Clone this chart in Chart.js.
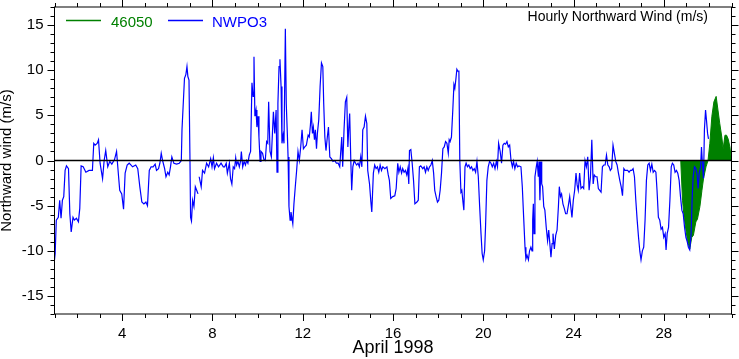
<!DOCTYPE html>
<html>
<head>
<meta charset="utf-8">
<script src="https://cdn.jsdelivr.net/npm/chart.js@4.4.1/dist/chart.umd.min.js"></script>
<style>
  html, body { margin: 0; padding: 0; background: #fff; }
  canvas { display: block; }
</style>
</head>
<body>
<canvas id="windChart" width="739" height="359"></canvas>
<script>
// NWPO3 hourly northward wind, x = day of April 1998 (1 = Apr 1 00:00)
var nwpoDays = [
  1.0, 1.03, 1.08, 1.17, 1.23, 1.29, 1.35, 1.41, 1.47, 1.53, 1.62, 1.68, 1.74, 1.82, 1.88, 1.97,
  2.06, 2.12, 2.18, 2.27, 2.39, 2.53, 2.68, 2.74, 2.80, 2.89, 2.95, 3.02, 3.13, 3.20, 3.27, 3.36,
  3.45, 3.54, 3.66, 3.75, 3.84, 3.89, 3.98, 4.06, 4.13, 4.22, 4.31, 4.46, 4.60, 4.69, 4.78, 4.87,
  4.96, 5.05, 5.12, 5.20, 5.28, 5.37, 5.46, 5.52, 5.61, 5.67, 5.73, 5.79, 5.88, 5.94, 6.02, 6.08,
  6.14, 6.20, 6.29, 6.41, 6.53, 6.62, 6.65, 6.70, 6.76, 6.82, 6.87, 6.91, 6.96, 7.00, 7.03, 7.07,
  7.12, 7.18, 7.24, 7.30, 7.36, 7.39, 7.41, 7.50, 7.56, 7.65, 7.74, 7.83, 7.92, 7.98, 8.04, 8.09,
  8.18, 8.27, 8.38, 8.48,
  8.54, 8.61, 8.66, 8.75, 8.80, 8.86, 8.92, 8.98, 9.03, 9.07, 9.13, 9.19, 9.25, 9.28, 9.34, 9.40,
  9.46, 9.51, 9.57, 9.63, 9.69, 9.75, 9.80, 9.84, 9.88, 9.93, 9.97, 10.02, 10.06, 10.11, 10.15, 10.22,
  10.28, 10.34, 10.40, 10.45, 10.49, 10.55, 10.61, 10.70, 10.76, 10.82, 10.86, 10.90, 10.95, 10.99, 11.04, 11.08,
  11.13, 11.17, 11.23, 11.27, 11.32, 11.35, 11.39, 11.44, 11.48, 11.56, 11.61, 11.67, 11.73, 11.79, 11.85, 11.91,
  11.97, 12.03, 12.09, 12.16, 12.24, 12.29, 12.34, 12.38, 12.43, 12.47, 12.52, 12.56, 12.61, 12.65, 12.71, 12.77,
  12.83, 12.89, 12.93, 12.98, 13.03, 13.09, 13.14, 13.20, 13.27, 13.34, 13.42, 13.49, 13.57, 13.64, 13.68, 13.73,
  13.77, 13.83, 13.89, 13.95, 14.00, 14.04, 14.08, 14.13, 14.17, 14.22, 14.28, 14.34, 14.39, 14.45, 14.51, 14.57,
  14.62, 14.66, 14.72, 14.78, 14.84, 14.88, 14.96, 15.02, 15.06, 15.13, 15.19, 15.25, 15.31, 15.37, 15.43, 15.49,
  15.55, 15.64, 15.73, 15.79, 15.84, 15.90, 15.99, 16.08, 16.14, 16.21, 16.26,
  16.32, 16.38, 16.43, 16.49, 16.55, 16.61, 16.66, 16.70, 16.73, 16.79, 16.85, 16.91, 16.97, 17.06, 17.12, 17.17,
  17.23, 17.32, 17.38, 17.44, 17.50, 17.56, 17.62, 17.68, 17.74, 17.80, 17.85, 17.91, 17.97, 18.03, 18.09, 18.15,
  18.21, 18.27, 18.33, 18.39, 18.45, 18.49, 18.53, 18.59, 18.65, 18.70, 18.74, 18.79, 18.83, 18.87, 18.92, 18.96,
  19.01, 19.05, 19.10, 19.14, 19.19, 19.24, 19.30, 19.36, 19.42, 19.48, 19.54, 19.60, 19.66, 19.72, 19.78, 19.84,
  19.90, 19.95, 20.00, 20.06, 20.10, 20.16, 20.22, 20.28, 20.34, 20.40, 20.46, 20.52, 20.58, 20.63, 20.68, 20.75,
  20.81, 20.87, 20.93, 20.99, 21.05, 21.11, 21.17, 21.23, 21.29, 21.34, 21.40, 21.46, 21.52, 21.58, 21.67, 21.73,
  21.79, 21.85, 21.89, 21.94, 22.00, 22.05, 22.11, 22.16, 22.19, 22.22, 22.25, 22.29, 22.35, 22.39, 22.44, 22.47,
  22.51, 22.56, 22.59, 22.63, 22.68, 22.73, 22.79, 22.85, 22.90, 22.94, 23.00, 23.05, 23.09, 23.15, 23.21, 23.27,
  23.33, 23.37, 23.42, 23.47, 23.53, 23.59, 23.65, 23.71, 23.77, 23.83,
  23.93, 23.99, 24.05, 24.11, 24.16, 24.21, 24.27, 24.33, 24.39, 24.45, 24.51, 24.57, 24.63, 24.69, 24.75, 24.81,
  24.87, 24.92, 24.98, 25.04, 25.10, 25.16, 25.22, 25.28, 25.34, 25.40, 25.46, 25.52, 25.58, 25.63, 25.69, 25.75,
  25.81, 25.87, 25.93, 25.99, 26.05, 26.11, 26.17, 26.23, 26.28, 26.34, 26.40, 26.46, 26.52, 26.58, 26.64, 26.70,
  26.76, 26.82, 26.88, 26.94, 26.99, 27.05, 27.11, 27.17, 27.23, 27.29, 27.35, 27.41, 27.47, 27.53, 27.59, 27.65,
  27.70, 27.76, 27.82, 27.88, 27.94, 28.00, 28.06, 28.10, 28.15, 28.21, 28.27, 28.33, 28.38, 28.44, 28.50, 28.56,
  28.62, 28.68, 28.74, 28.80, 28.86, 28.92, 28.98, 29.04, 29.09, 29.15, 29.21, 29.26, 29.30, 29.36, 29.42, 29.48,
  29.52, 29.57, 29.63, 29.67, 29.72, 29.76, 29.80, 29.85, 29.89, 29.94, 29.98
];
var nwpoWind = [
  -11.0, -10.3, -6.6, -6.3, -4.4, -6.4, -4.4, -4.0, -1.1, -0.6, -0.9, -5.9, -7.9, -6.3, -6.6, -6.4,
  -6.8, -5.3, -0.6, -0.7, -1.3, -1.1, -1.1, 1.9, 1.7, 1.9, 2.3, -0.3, -2.0, 0.0, 1.1, -0.7,
  -0.1, -0.4, 0.1, 1.0, -1.8, -3.3, -3.7, -5.4, -1.4, -0.5, -0.3, -0.7, -0.5, -0.9, -2.9, -4.6,
  -4.8, -4.6, -5.0, -1.1, -0.7, -0.7, -0.4, -1.1, -0.9, -0.3, 0.8, 0.0, -0.9, -1.8, -1.3, -1.6,
  -0.7, 0.4, -0.3, -0.4, -0.3, 0.0, 3.4, 6.0, 9.1, 9.5, 10.4, 9.3, 8.9, 0.8, -6.3, -6.7,
  -4.4, -5.1, -2.9, -3.3, -3.7, null, -1.8, -2.9, -1.1, -1.4, -0.3, -0.7, 0.2, -0.7, 0.3, -0.9,
  -0.3, -0.7, -0.3, -0.7,
  -0.7, -0.3, -1.4, -0.3, -2.0, -2.6, -0.7, -0.9, 0.3, -0.5, -0.1, -0.7, 0.0, 1.0, -0.7, -0.1,
  -0.5, 0.0, -0.3, 0.6, 1.0, 8.6, 7.1, 11.5, 4.9, 5.6, 3.7, 4.9, 2.6, -0.1, 1.0, 0.8,
  0.1, 0.0, 2.1, 1.9, 6.5, 1.0, 0.4, 5.4, 3.0, 5.6, -1.3, 6.3, 10.4, 11.2, 8.2, 1.9,
  2.8, 1.9, 14.6, 6.3, 2.8, 0.4, -5.1, -6.6, -5.7, -7.0, -4.8, -2.9, -1.1, 1.0, 0.0, 1.5,
  3.4, 1.3, 1.5, 1.7, 2.8, 2.6, 3.9, 5.4, 3.0, 3.7, 2.3, 3.4, 1.3, 3.0, 4.5, 8.2,
  10.8, 10.4, 6.3, 2.6, 1.1, 2.6, 3.7, 0.4, 0.2, -0.1, 0.0, -0.3, -0.3, -0.7, 0.8, 2.6,
  -0.7, 3.4, 6.5, 7.0, 1.5, 3.6, 5.2, 0.0, -3.3, -0.7, 0.0, -0.3, -0.5, -0.3, -0.7, 0.4,
  -0.7, 3.4, 3.7, 4.9, 4.1, -1.1, -2.6, -4.6, -5.7, -1.4, -0.5, -0.9, -0.7, -1.3, -0.5, -1.1,
  -0.7, -0.9, -0.7, -1.6, -2.2, -4.2, -4.0, -3.9, -3.1, -0.3, -1.3,
  -0.7, -1.4, -0.9, -1.3, -1.1, -1.6, -0.9, -2.6, 1.1, 1.2, -0.3, -2.2, -4.8, -4.6, -4.4, -0.7,
  -0.6, -0.9, -0.7, -1.3, -0.7, -1.1, -0.7, -0.5, 0.0, -1.4, -3.3, -4.0, -4.6, -4.4, -3.3, -1.4,
  1.3, 1.5, 2.1, 1.9, 0.8, 2.3, 2.1, 2.6, 5.6, 8.4, 8.0, 9.1, 10.1, 9.9, 9.9, 0.0,
  -3.5, -3.3, -4.6, -5.5, -0.7, -0.3, -0.7, -0.5, -0.9, -0.7, -1.1, -0.9, -1.3, -0.1, -1.8, -5.1,
  -8.1, -10.3, -11.0, -10.0, -7.4, -2.2, -0.7, -0.1, -0.3, -0.7, -0.3, -0.9, -0.1, -0.7, 1.9, 1.0,
  -0.3, 1.7, 1.9, 1.8, 2.1, 1.5, 1.7, 0.0, -0.7, -0.1, -0.9, -0.3, -0.7, -0.6, -0.7, -2.9,
  -6.3, -9.6, -10.9, -10.5, -11.0, -10.0, -9.6, -10.0, -6.6, -4.8, -8.1, -1.8, -0.7, -0.1, -1.8, -0.1,
  -4.4, -0.1, -2.6, -2.9, -5.1, -5.5, -7.4, -8.9, -7.7, -8.9, -10.7, -9.2, -8.1, -9.8, -8.3, -7.7,
  -5.1, -2.9, -4.0, -3.7, -4.8, -5.3, -5.9, -5.9, -5.0, -4.0,
  -6.3, -4.4, -3.3, -1.4, -2.7, -3.3, -1.4, -3.1, -2.9, -3.1, 0.0, -0.7, 0.4, -3.3, -1.8, 2.3,
  -2.6, -1.6, -1.8, -1.8, -3.1, -3.3, -3.5, -0.7, -0.5, -0.5, 0.6, -0.5, -0.7, -1.1, -0.9, 1.7,
  0.8, -0.1, -0.5, -1.4, -2.2, -2.9, -3.9, -0.9, -1.1, -1.1, -1.1, -1.3, -1.1, -1.1, -0.9, -1.8,
  -4.4, -6.6, -8.5, -10.1, -11.0, -10.0, -9.6, -6.6, -2.2, -0.5, -0.3, -1.1, -0.4, -1.3, -1.1, -1.3,
  -3.3, -6.3, -6.6, -7.6, -7.4, -8.5, -8.1, -9.9, -8.1, -7.4, -4.4, -0.7, -0.3, -0.5, -1.3, -1.1,
  -1.4, -2.2, -4.0, -5.5, -5.9, -7.4, -8.5, -9.0, -9.6, -9.9, -8.1, -4.0, -1.8, -0.7, -0.9, -1.6,
  -3.1, -1.4, -0.7, 1.5, -0.7, -2.0, 3.4, 5.6, 4.5, 3.0, 2.4
];

// 46050 buoy, last days of the month
var buoyDays = [28.75, 28.83, 28.90, 28.98, 29.05, 29.15, 29.24, 29.31, 29.42, 29.49, 29.60, 29.69,
  29.76, 29.87, 29.96, 30.04, 30.13, 30.22, 30.32, 30.40, 30.48, 30.57, 30.63, 30.71, 30.78, 30.85, 30.93, 31.0];
var buoyWind = [0.0, -4.4, -6.3, -7.7, -8.9, -9.8, -8.5, -8.3, -6.8, -6.5, -5.1, -3.3,
  -2.0, -0.7, 0.0, 1.9, 4.9, 6.5, 7.1, 5.6, 4.1, 2.6, 1.3, 2.8, 2.8, 2.4, 1.5, 0.0];

var xTicks = [4, 8, 12, 16, 20, 24, 28];
var yTicks = [-15, -10, -5, 0, 5, 10, 15];

var FONT = "'Liberation Sans', Arial, Helvetica, sans-serif";
Chart.defaults.font.family = FONT;
Chart.defaults.color = '#000';

function toPoints(xs, ys) {
  return xs.map(function (d, i) { return { x: d, y: ys[i] }; });
}

// frame, minor/major ticks, zero line, legend and title
var decorations = {
  id: 'decorations',
  afterDatasetsDraw: function (chart) {
    var ctx = chart.ctx, a = chart.chartArea;
    var y0 = chart.scales.y.getPixelForValue(0);
    ctx.save();
    ctx.strokeStyle = '#000';
    ctx.lineWidth = 1.3;
    ctx.beginPath();
    ctx.moveTo(a.left, y0);
    ctx.lineTo(a.right, y0);
    ctx.stroke();
    ctx.restore();
  },
  afterDraw: function (chart) {
    var ctx = chart.ctx, a = chart.chartArea;
    var xs = chart.scales.x, ys = chart.scales.y;
    ctx.save();
    ctx.strokeStyle = '#000';
    ctx.lineWidth = 1;
    ctx.strokeRect(a.left, a.top, a.right - a.left, a.bottom - a.top);
    ctx.beginPath();
    for (var v = -17; v <= 17; v++) {
      var len = v % 5 === 0 ? 7 : 4;
      var py = Math.round(ys.getPixelForValue(v)) + 0.5;
      ctx.moveTo(a.left - len, py); ctx.lineTo(a.left, py);
      ctx.moveTo(a.right, py); ctx.lineTo(a.right + len, py);
    }
    for (var d = 1; d <= 31; d++) {
      var l2 = d % 4 === 0 ? 7 : 4;
      var px = Math.round(xs.getPixelForValue(d)) + 0.5;
      ctx.moveTo(px, a.bottom); ctx.lineTo(px, a.bottom + l2);
      ctx.moveTo(px, a.top - l2); ctx.lineTo(px, a.top);
    }
    ctx.stroke();

    // legend
    ctx.lineWidth = 1.3;
    ctx.strokeStyle = '#008000';
    ctx.beginPath(); ctx.moveTo(66, 20.5); ctx.lineTo(101, 20.5); ctx.stroke();
    ctx.strokeStyle = '#0000ff';
    ctx.beginPath(); ctx.moveTo(168, 20.5); ctx.lineTo(203, 20.5); ctx.stroke();
    ctx.font = '15px ' + FONT;
    ctx.textBaseline = 'alphabetic';
    ctx.textAlign = 'left';
    ctx.fillStyle = '#008000';
    ctx.fillText('46050', 111, 26.5);
    ctx.fillStyle = '#0000ff';
    ctx.fillText('NWPO3', 212, 26.5);

    // title
    ctx.font = '14px ' + FONT;
    ctx.fillStyle = '#000';
    ctx.textAlign = 'right';
    ctx.fillText('Hourly Northward Wind (m/s)', 708, 20.5);
    ctx.restore();
  }
};

new Chart(document.getElementById('windChart'), {
  type: 'line',
  data: {
    datasets: [
      {
        label: 'NWPO3',
        data: toPoints(nwpoDays, nwpoWind),
        borderColor: '#0000ff',
        borderWidth: 1.2,
        pointRadius: 0,
        tension: 0,
        fill: false,
        spanGaps: false
      },
      {
        label: '46050',
        data: toPoints(buoyDays, buoyWind),
        borderColor: '#008000',
        backgroundColor: '#008000',
        borderWidth: 1,
        pointRadius: 0,
        tension: 0,
        fill: 'origin'
      }
    ]
  },
  options: {
    responsive: false,
    animation: false,
    layout: { padding: { top: 7, right: 7.5, left: 0, bottom: 0 } },
    plugins: {
      legend: { display: false },
      tooltip: { enabled: false }
    },
    scales: {
      x: {
        type: 'linear',
        min: 1,
        max: 31,
        afterBuildTicks: function (s) { s.ticks = xTicks.map(function (v) { return { value: v }; }); },
        afterFit: function (s) { s.height = 45; s.paddingLeft = 0; s.paddingRight = 0; },
        grid: { display: false, drawTicks: false },
        border: { display: false },
        ticks: { font: { size: 15 }, padding: 11, maxRotation: 0, autoSkip: false, color: '#000' },
        title: { display: true, text: 'April 1998', font: { size: 18 }, padding: 0, color: '#000' }
      },
      y: {
        min: -17,
        max: 17,
        afterBuildTicks: function (s) { s.ticks = yTicks.map(function (v) { return { value: v }; }); },
        afterFit: function (s) { s.width = 54.5; s.paddingTop = 0; s.paddingBottom = 0; },
        grid: { display: false, drawTicks: false },
        border: { display: false },
        ticks: { font: { size: 15 }, padding: 11, color: '#000' },
        title: { display: true, text: 'Northward wind (m/s)', font: { size: 15 }, padding: { top: -2, bottom: 0 }, color: '#000' }
      }
    }
  },
  plugins: [decorations]
});
</script>
</body>
</html>
